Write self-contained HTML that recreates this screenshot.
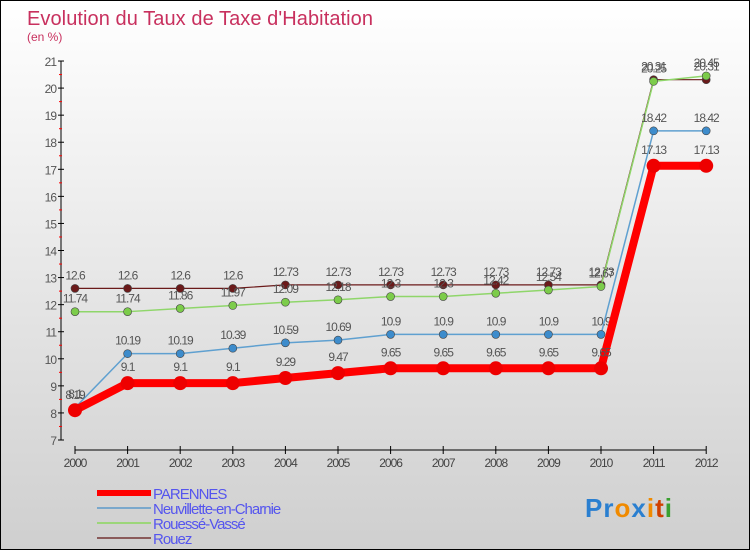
<!DOCTYPE html>
<html><head><meta charset="utf-8"><style>
body{margin:0}
#c{position:relative;width:748px;height:548px;border:1px solid #000;background:linear-gradient(#fff,#cfcfcf);font-family:"Liberation Sans",sans-serif;overflow:hidden}
</style></head><body>
<div id="c">
<svg id="s" width="748" height="548"></svg>
</div>
<script>
const years=["2000","2001","2002","2003","2004","2005","2006","2007","2008","2009","2010","2011","2012"];
const parennes=[8.1,9.1,9.1,9.1,9.29,9.47,9.65,9.65,9.65,9.65,9.65,17.13,17.13];
const neuvillette=[8.19,10.19,10.19,10.39,10.59,10.69,10.9,10.9,10.9,10.9,10.9,18.42,18.42];
const rouesse=[11.74,11.74,11.86,11.97,12.09,12.18,12.3,12.3,12.42,12.54,12.67,20.25,20.45];
const rouez=[12.6,12.6,12.6,12.6,12.73,12.73,12.73,12.73,12.73,12.73,12.73,20.31,20.31];
const yTicks=[7,8,9,10,11,12,13,14,15,16,17,18,19,20,21];
const NS="http://www.w3.org/2000/svg";
const s=document.getElementById('s');
const X=i=>74+i*52.6, Y=v=>439-(v-7)*27.07;
function el(t,a,p){const e=document.createElementNS(NS,t);for(const k in a)e.setAttribute(k,a[k]);(p||s).appendChild(e);return e;}
function txt(x,y,str,a){const e=el('text',Object.assign({x:x,y:y},a));e.textContent=str;return e;}
let t=txt(26,24,"Evolution du Taux de Taxe d'Habitation",{'font-size':20,fill:'#c8305e','textLength':346});

t=txt(26,40,"(en %)",{'font-size':12,fill:'#c8305e'});

let ax=el('line',{x1:60,y1:Y(21),x2:60,y2:Y(7),stroke:'#000'});

yTicks.forEach(v=>{el('line',{x1:57,x2:63,y1:Y(v),y2:Y(v),stroke:'#000'});
 if(v<21)el('line',{x1:58,x2:61,y1:Y(v+0.5),y2:Y(v+0.5),stroke:'#f00'});
 let l=txt(55,Y(v)+5,v,{'font-size':12,fill:'#555','text-anchor':'end','letter-spacing':'-1'});
 });
ax=el('line',{x1:X(0),y1:449,x2:X(12),y2:449,stroke:'#000'});

years.forEach((y,i)=>{el('line',{x1:X(i),x2:X(i),y1:445,y2:453,stroke:'#000'});
 let l=txt(X(i),466,y,{'font-size':12,fill:'#444','text-anchor':'middle','letter-spacing':'-1'});
 });
const series=[
 {d:rouez,c:'#6b1a1a',w:1.2,r:4,n:'rouez'},
 {d:rouesse,c:'#8fd66a',w:1.5,r:4,n:'rouesse-vasse'},
 {d:neuvillette,c:'#5fa0d0',w:1.5,r:4,n:'neuvillette'},
 {d:parennes,c:'#f00',w:8,r:7,n:'parennes'}];
const fills={rouez:'#6b1a1a','rouesse-vasse':'#7ccc4a',neuvillette:'#3d8ccc',parennes:'#e00'};
series.forEach(S=>{
 const g=el('g',{});
 el('polyline',{points:S.d.map((v,i)=>X(i)+','+Y(v)).join(' '),fill:'none',stroke:S.c,'stroke-width':S.w,'stroke-linejoin':'round'},g);
 S.d.forEach((v,i)=>{const p=el('circle',{cx:X(i),cy:Y(v),r:S.r,fill:fills[S.n],stroke:S.n=='parennes'?'none':'#444','stroke-width':0.6},g);
  
  const l=txt(X(i),Y(v)-(S.n=='parennes'?12:9),String(v),{'font-size':12,fill:'#555','text-anchor':'middle','letter-spacing':'-1'},g);
  });
});
const leg=[['PARENNES','#f00',6],['Neuvillette-en-Charnie','#7aa8cc',2],['Rouessé-Vassé','#9cd67a',2],['Rouez','#8a5a5a',2]];
leg.forEach((L,i)=>{const g=el('g',{});
 const yy=492+i*15;el('line',{x1:96,x2:150,y1:yy,y2:yy,stroke:L[1],'stroke-width':L[2]},g);
 txt(152,yy+6,L[0],{'font-size':15,fill:'#5555ee','letter-spacing':'-1'},g);});
const lg=el('g',{});
const lt=el('text',{x:584,y:516,'font-size':26,'font-weight':'bold','letter-spacing':'1'},lg);
[['Pr','#2a7fd0'],['o','#f08a00'],['x','#2a7fd0'],['i','#f08a00'],['t','#d04000'],['i','#3aa030']].forEach(a=>{const ts=el('tspan',{fill:a[1]},lt);ts.textContent=a[0];});
</script>
</body></html>
